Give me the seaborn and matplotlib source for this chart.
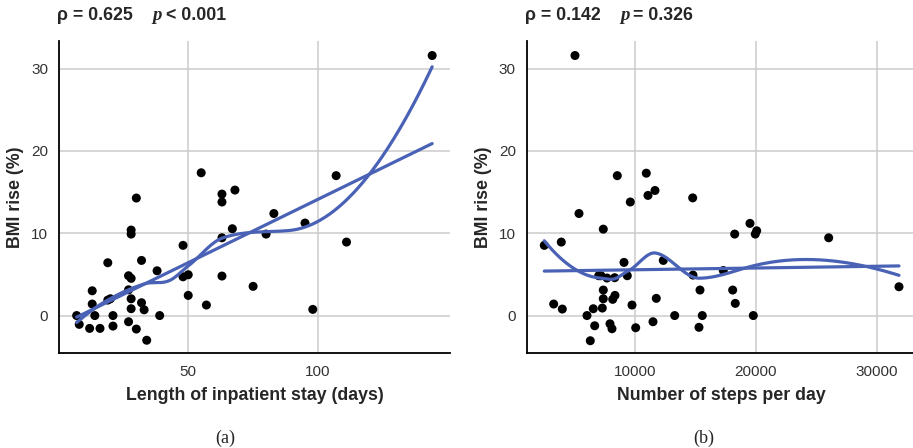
import matplotlib; matplotlib.use("Agg")
import numpy as np
import pandas as pd
import matplotlib.pyplot as plt
import seaborn as sns

# panel (a): length of stay vs BMI rise
stay_days = [55, 63, 63, 68, 30, 28, 28, 67, 63, 48, 19, 32, 38, 27, 28, 48,
             50, 63, 75, 13, 27, 19, 20, 28, 13, 32, 28, 33, 50, 57, 7, 14,
             21, 39, 8, 12, 16, 21, 27, 30, 34, 144, 107, 83, 95, 80, 111, 98]
bmi_rise_a = [17.35, 14.76, 13.8, 15.25, 14.28, 10.39, 9.9, 10.55, 9.45, 8.53,
              6.42, 6.7, 5.44, 4.84, 4.52, 4.71, 4.96, 4.8, 3.55, 3.01, 3.13,
              1.88, 2.04, 2.04, 1.4, 1.56, 0.83, 0.7, 2.45, 1.28, 0, 0, 0, 0,
              -1.07, -1.56, -1.56, -1.28, -0.75, -1.64, -3.0, 31.6, 17.0, 12.4,
              11.24, 9.9, 8.93, 0.75]

# panel (b): steps per day vs BMI rise
steps = [5041, 8537, 10934, 11653, 11074, 9612, 14769, 5372, 7380, 2504, 3909,
         9091, 12339, 7000, 7190, 7686, 8322, 9364, 14793, 7380, 15372, 8347,
         7380, 8157, 3281, 3992, 6554, 7298, 11760, 9752, 6033, 13281, 15562,
         6669, 7934, 8099, 10058, 11488, 15289, 6306, 19504, 20058, 19942,
         18240, 26008, 17298, 18074, 18289, 19777, 31818]
bmi_rise_b = [31.6, 17.0, 17.3, 15.2, 14.6, 13.8, 14.3, 12.4, 10.5, 8.53, 8.93,
              6.46, 6.7, 4.84, 4.84, 4.56, 4.6, 4.84, 4.92, 3.1, 3.1, 2.45,
              2.04, 1.97, 1.4, 0.79, 0.83, 0.91, 2.09, 1.28, 0, 0, 0, -1.24,
              -1.0, -1.6, -1.48, -0.75, -1.43, -3.06, 11.2, 10.3, 9.9, 9.9,
              9.45, 5.47, 3.1, 1.48, 0, 3.5]

stats = [("0.625", "<", "0.001"), ("0.142", "=", "0.326")]
xlabels = ["Length of inpatient stay (days)", "Number of steps per day"]
captions = ["(a)", "(b)"]
SPAN = 0.75   # loess span (ggplot default)

LINE = "#4A62B6"
GRID = "#CBCBCB"


def local_fit(x, y, q, g):
    # local quadratic, tricube weights -> value and slope at g
    d = np.abs(x - g)
    h = np.sort(d)[q - 1]
    w = np.clip(1 - (d / h) ** 3, 0, 1) ** 3
    u = (x - g) / h
    X = np.vstack([np.ones(len(x)), u, u ** 2]).T
    sw = np.sqrt(w)
    b = np.linalg.lstsq(X * sw[:, None], y * sw, rcond=None)[0]
    return b[0], b[1] / h


def loess(x, y, span, grid, cell=0.2):
    """loess evaluated at kd-tree vertices + cubic hermite interpolation (like R)"""
    x = np.asarray(x, float); y = np.asarray(y, float)
    n = len(x); q = int(np.ceil(span * n))
    fc = int(np.floor(n * span * cell))
    verts = {x.min(), x.max()}

    def split(pts):
        if len(pts) <= fc:
            return
        m = np.median(pts)
        lo, hi = pts[pts <= m], pts[pts > m]
        if len(lo) == 0 or len(hi) == 0:
            return
        verts.add(m)
        split(lo); split(hi)

    split(np.sort(x))
    v = np.array(sorted(verts))
    fv = np.array([local_fit(x, y, q, g) for g in v])
    out = np.empty_like(grid)
    for k, g in enumerate(grid):
        j = min(np.searchsorted(v, g, side="right") - 1, len(v) - 2)
        x0, x1 = v[j], v[j + 1]; dx = x1 - x0
        t = (g - x0) / dx
        h00 = 2 * t**3 - 3 * t**2 + 1; h10 = t**3 - 2 * t**2 + t
        h01 = -2 * t**3 + 3 * t**2; h11 = t**3 - t**2
        out[k] = (h00 * fv[j, 0] + h10 * dx * fv[j, 1]
                  + h01 * fv[j + 1, 0] + h11 * dx * fv[j + 1, 1])
    return out


sns.set_style("white")
plt.rcParams["font.family"] = ["Liberation Sans", "DejaVu Sans"]

fig = plt.figure(figsize=(9.13, 4.48), dpi=100)
W, H = 913, 448
ax_a = fig.add_axes([59 / W, 95 / H, 390.8 / W, 312.3 / H])
ax_b = fig.add_axes([526.7 / W, 95 / H, 389.6 / W, 312.3 / H])

panels = [(ax_a, stay_days, bmi_rise_a, (0.2, 150.8), [50, 100]),
          (ax_b, steps, bmi_rise_b, (1050, 33250), [10000, 20000, 30000])]

for i, (ax, xs, ys, xlim, xt) in enumerate(panels):
    df = pd.DataFrame({"x": xs, "y": ys})
    sns.scatterplot(data=df, x="x", y="y", color="black", s=42,
                    edgecolor="none", ax=ax, zorder=3)
    sns.regplot(data=df, x="x", y="y", scatter=False, ci=None, ax=ax,
                line_kws=dict(color=LINE, lw=2.3, zorder=4))
    grid = np.linspace(min(xs), max(xs), 300)
    sm = pd.DataFrame({"x": grid, "y": loess(xs, ys, SPAN, grid)})
    sns.lineplot(data=sm, x="x", y="y", color=LINE, lw=2.3, ax=ax, zorder=4)

    ax.set_xlim(*xlim); ax.set_ylim(-4.55, 33.4)
    ax.set_xticks(xt); ax.set_yticks([0, 10, 20, 30])
    ax.grid(True, color=GRID, lw=1.1, zorder=0)
    for s in ["top", "right"]:
        ax.spines[s].set_visible(False)
    for s in ["left", "bottom"]:
        ax.spines[s].set_color("black"); ax.spines[s].set_linewidth(1.3)
    ax.tick_params(axis="both", length=4.3, width=1.0, color="black",
                   labelsize=11, labelcolor="#333333")
    ax.tick_params(axis="x", pad=4.5)
    ax.tick_params(axis="y", pad=3.5)
    ax.set_xlabel(xlabels[i], fontsize=12.8, fontweight="bold")
    ax.set_ylabel("BMI rise (%)", fontsize=12.8, fontweight="bold")
    ax.xaxis.set_label_coords(0.5, -0.11)
    ax.yaxis.set_label_coords(-0.09, 0.5)

    rho, op, p = stats[i]
    t1 = ax.text(-0.005, 1.055, f"\u03c1 = {rho}", transform=ax.transAxes,
                 fontsize=12.8, fontweight="bold", va="bottom")
    t2 = ax.annotate("p", xy=(1, 0), xycoords=t1, xytext=(14, 0),
                     textcoords="offset points", va="bottom",
                     fontsize=13.5, fontweight="bold", fontstyle="italic",
                     family=["Liberation Serif", "DejaVu Serif"])
    ax.annotate(f"{op} {p}", xy=(1, 0), xycoords=t2, xytext=(3, 0),
                textcoords="offset points", va="bottom",
                fontsize=12.8, fontweight="bold")

fig.text(225 / W, 1 - 438 / H, captions[0], ha="center", va="center",
         fontsize=13, family=["Liberation Serif", "DejaVu Serif"])
fig.text(704 / W, 1 - 438 / H, captions[1], ha="center", va="center",
         fontsize=13, family=["Liberation Serif", "DejaVu Serif"])

fig.savefig("out.png", dpi=100)
